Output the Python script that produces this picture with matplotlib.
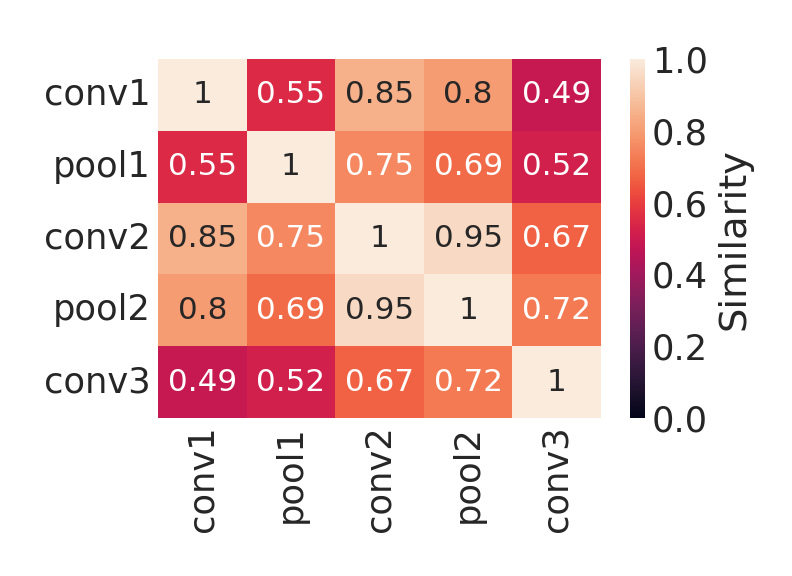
import matplotlib
matplotlib.use("Agg")
import matplotlib.pyplot as plt
import seaborn as sns
import numpy as np

layers = ["conv1", "pool1", "conv2", "pool2", "conv3"]
row_conv1 = [1, 0.55, 0.85, 0.8, 0.49]
row_pool1 = [0.55, 1, 0.75, 0.69, 0.52]
row_conv2 = [0.85, 0.75, 1, 0.95, 0.67]
row_pool2 = [0.8, 0.69, 0.95, 1, 0.72]
row_conv3 = [0.49, 0.52, 0.67, 0.72, 1]

sns.set_theme(style="white", font_scale=1.6)
mat = np.array([row_conv1, row_pool1, row_conv2, row_pool2, row_conv3])

fig = plt.figure(figsize=(5.5, 4), dpi=144)
ax = fig.add_axes([158/792, 1-418/576, (601-158)/792, (418-59)/576])
cax = fig.add_axes([630/792, 1-418/576, (645-630)/792, (418-59)/576])
sns.heatmap(mat, ax=ax, cbar_ax=cax, annot=True, vmin=0, vmax=1,
            xticklabels=layers, yticklabels=layers,
            cbar_kws={"label": "Similarity"}, annot_kws={"size": 15.5})
ax.tick_params(axis="x", rotation=90, length=0)
ax.tick_params(axis="y", rotation=0, length=0)
cax.tick_params(length=0)
fig.savefig("out.png", dpi=144)
